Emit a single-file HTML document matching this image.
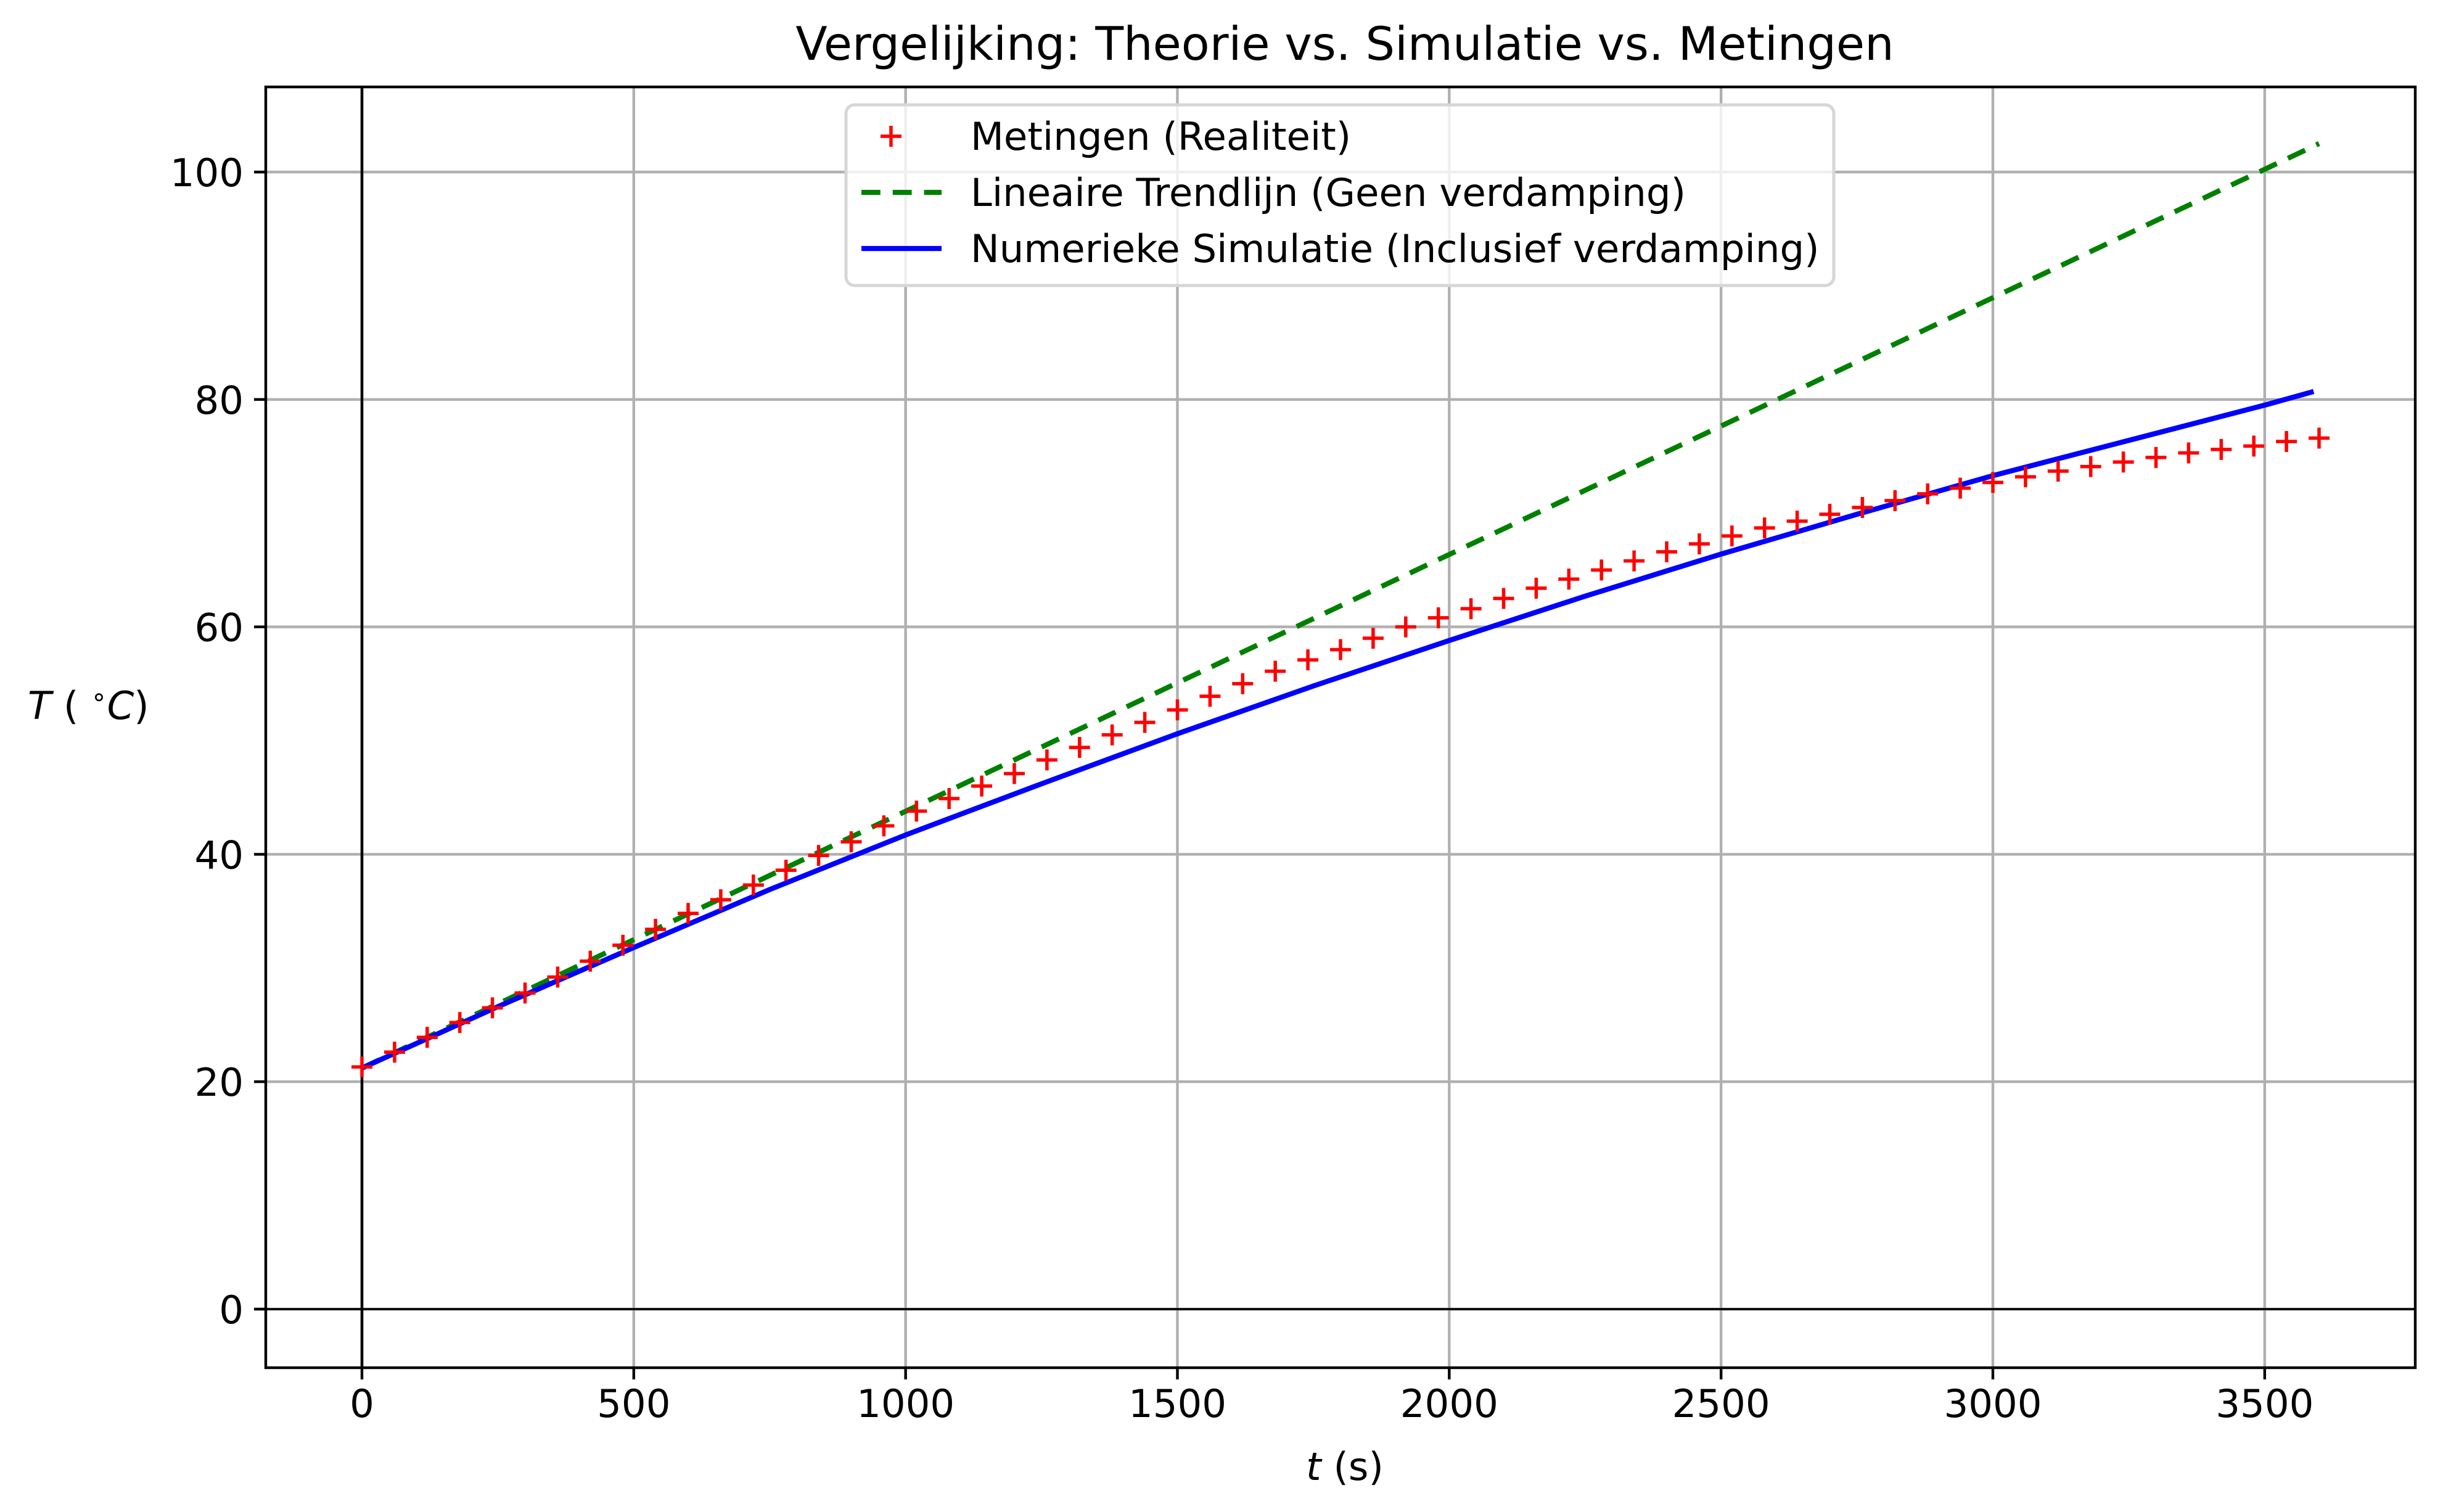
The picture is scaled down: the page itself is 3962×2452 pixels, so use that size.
<!DOCTYPE html>
<html><head><meta charset="utf-8"><style>
html,body{margin:0;padding:0;background:#fff}
svg{display:block}
text{font-family:"DejaVu Sans","Liberation Sans",sans-serif;fill:#000}
</style></head><body>
<svg id="chart" width="3962" height="2452" viewBox="0 0 3962 2452" xmlns="http://www.w3.org/2000/svg">
<rect width="3962" height="2452" fill="#fff"/>
<g id="grid"></g>
<g id="refs"></g>
<g id="series"></g>
<g id="axes"></g>
<text x="2181" y="97" font-size="75" text-anchor="middle">Vergelijking: Theorie vs. Simulatie vs. Metingen</text>
<text x="2181" y="2400" font-size="62.5" text-anchor="middle"><tspan font-style="italic">t</tspan> (s)</text>
<text x="45" y="1166" font-size="62.5"><tspan font-style="italic">T</tspan> ( <tspan font-size="42" dy="-22">∘</tspan><tspan dy="22" font-style="italic">C</tspan>)</text>
<g id="legend">
<rect x="1372" y="170" width="1602" height="293" rx="14" fill="#fff" fill-opacity="0.8" stroke="#d6d6d6" stroke-width="5"/>
<g>
<path d="M1445 204 V238 M1428 221 H1462" stroke="#f00" stroke-width="5.5"/>
<text x="1574" y="243" font-size="62.5">Metingen (Realiteit)</text></g>
<g>
<line x1="1397" y1="312" x2="1527" y2="312" stroke="#008000" stroke-width="8.3" stroke-dasharray="30.8,20"/>
<text x="1574" y="334" font-size="62.5">Lineaire Trendlijn (Geen verdamping)</text></g>
<g>
<line x1="1397" y1="403" x2="1527" y2="403" stroke="#00f" stroke-width="8.3"/>
<text x="1574" y="425" font-size="62.5">Numerieke Simulatie (Inclusief verdamping)</text></g>
</g>
</svg>
<script>
const xTicks=[0,500,1000,1500,2000,2500,3000,3500];
const yTicks=[0,20,40,60,80,100];
const measT=[0,60,120,180,240,300,360,420,480,540,600,660,720,780,840,900,960,1020,1080,1140,1200,1260,1320,1380,1440,1500,1560,1620,1680,1740,1800,1860,1920,1980,2040,2100,2160,2220,2280,2340,2400,2460,2520,2580,2640,2700,2760,2820,2880,2940,3000,3060,3120,3180,3240,3300,3360,3420,3480,3540,3600];
const measValues=[21.3,22.6,23.9,25.2,26.5,27.8,29.2,30.6,32.0,33.4,34.8,36.0,37.3,38.6,39.9,41.1,42.5,43.8,44.9,46.0,47.1,48.3,49.4,50.5,51.6,52.7,53.9,55.0,56.1,57.1,58.0,59.0,60.0,60.8,61.6,62.5,63.4,64.2,65.0,65.8,66.6,67.3,68.0,68.7,69.3,69.9,70.5,71.1,71.7,72.2,72.7,73.2,73.7,74.1,74.5,74.9,75.3,75.6,75.9,76.3,76.6];
const trendT=[0,3600];
const trendValues=[21.2,102.5];
const simT=[0,250,500,750,1000,1250,1500,1750,2000,2250,2500,2750,3000,3250,3500,3590];
const simValues=[21.2,26.6,31.8,36.9,41.7,46.2,50.6,54.8,58.8,62.7,66.4,69.9,73.3,76.4,79.5,80.7];

const NS='http://www.w3.org/2000/svg';
const L=431,R=3917,T=141,B=2218;
const xs=v=>587+v*(3232-587)/3000;
const ys=v=>2123-v*(2123-279)/100;
function mk(tag,attrs,parent){const e=document.createElementNS(NS,tag);for(const k in attrs)e.setAttribute(k,attrs[k]);parent.appendChild(e);return e;}
const grid=document.getElementById('grid'),axes=document.getElementById('axes'),series=document.getElementById('series'),refs=document.getElementById('refs');
xTicks.forEach(t=>{
  const g=mk('line',{x1:xs(t),x2:xs(t),y1:T,y2:B,stroke:'#b0b0b0','stroke-width':4.4},grid);
  
  
  const tk=mk('line',{x1:xs(t),x2:xs(t),y1:B,y2:B+19,stroke:'#000','stroke-width':4.4},axes);
  
  
  const lb=mk('text',{x:xs(t),y:B+80,'font-size':62.5,'text-anchor':'middle'},axes);
  lb.textContent=t;
  
  
});
yTicks.forEach(v=>{
  const g=mk('line',{x1:L,x2:R,y1:ys(v),y2:ys(v),stroke:'#b0b0b0','stroke-width':4.4},grid);
  
  
  const tk=mk('line',{x1:L-19,x2:L,y1:ys(v),y2:ys(v),stroke:'#000','stroke-width':4.4},axes);
  
  
  const lb=mk('text',{x:L-36,y:ys(v)+23,'font-size':62.5,'text-anchor':'end'},axes);
  lb.textContent=v;
  
  
});
const h=mk('line',{x1:L,x2:R,y1:ys(0),y2:ys(0),stroke:'#000','stroke-width':3.5},refs);


const v0=mk('line',{x1:xs(0),x2:xs(0),y1:T,y2:B,stroke:'#000','stroke-width':4.5},refs);


const tr=mk('polyline',{points:trendT.map((t,i)=>xs(t)+','+ys(trendValues[i])).join(' '),fill:'none',stroke:'#008000','stroke-width':8.3,'stroke-dasharray':'30.8,20'},series);


const sm=mk('polyline',{points:simT.map((t,i)=>xs(t)+','+ys(simValues[i])).join(' '),fill:'none',stroke:'#00f','stroke-width':8.3,'stroke-linejoin':'round'},series);


measT.forEach((t,i)=>{
  const x=xs(t),y=ys(measValues[i]);
  const p=mk('path',{d:`M${x-17} ${y} H${x+17} M${x} ${y-17} V${y+17}`,stroke:'#f00','stroke-width':5.5},series);
  
  
});
const fr=mk('rect',{x:L,y:T,width:R-L,height:B-T,fill:'none',stroke:'#000','stroke-width':4.4},axes);


</script>
</body></html>
